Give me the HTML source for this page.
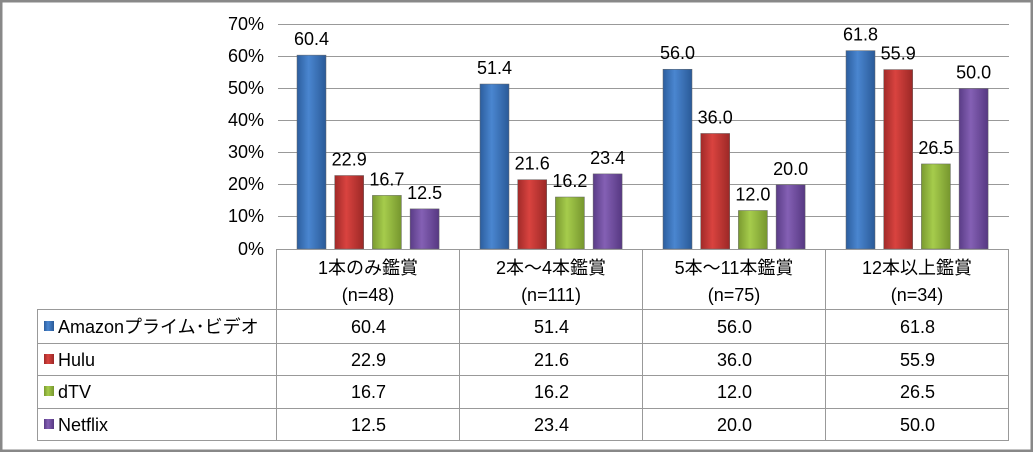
<!DOCTYPE html>
<html><head><meta charset="utf-8"><style>
body{margin:0;background:#fff}
svg{display:block;font-family:"Liberation Sans","Noto Sans CJK JP",sans-serif}
</style></head><body>
<svg width="1033" height="452" viewBox="0 0 1033 452" xmlns="http://www.w3.org/2000/svg">
<defs>
<linearGradient id="gb" x1="0" x2="1"><stop offset="0" stop-color="#2c5e9e"/><stop offset=".4" stop-color="#4a86d0"/><stop offset="1" stop-color="#2a5a98"/></linearGradient>
<linearGradient id="gr" x1="0" x2="1"><stop offset="0" stop-color="#a02a28"/><stop offset=".4" stop-color="#d9433f"/><stop offset="1" stop-color="#9c2826"/></linearGradient>
<linearGradient id="gg" x1="0" x2="1"><stop offset="0" stop-color="#7a9a30"/><stop offset=".4" stop-color="#a6cc4c"/><stop offset="1" stop-color="#76962e"/></linearGradient>
<linearGradient id="gp" x1="0" x2="1"><stop offset="0" stop-color="#5a3c86"/><stop offset=".4" stop-color="#8460b4"/><stop offset="1" stop-color="#563882"/></linearGradient>
</defs>
<rect x="1" y="1" width="1031" height="450" fill="#fff" stroke="#888" stroke-width="3"/>
<g stroke="#999" stroke-width="1">
<line x1="278" x2="1009" y1="24.5" y2="24.5"/><line x1="278" x2="1009" y1="56.5" y2="56.5"/>
<line x1="278" x2="1009" y1="88.5" y2="88.5"/><line x1="278" x2="1009" y1="120.5" y2="120.5"/>
<line x1="278" x2="1009" y1="152.5" y2="152.5"/><line x1="278" x2="1009" y1="184.5" y2="184.5"/>
<line x1="278" x2="1009" y1="216.5" y2="216.5"/>
</g>
<g font-size="18" fill="#000" text-anchor="end">
<text x="264" y="30">70%</text><text x="264" y="62">60%</text><text x="264" y="94">50%</text>
<text x="264" y="126">40%</text><text x="264" y="158">30%</text><text x="264" y="190">20%</text>
<text x="264" y="222">10%</text><text x="264" y="255">0%</text>
</g>
<g id="bars"></g>
<g stroke="#999" stroke-width="1" fill="none">
<line x1="276" x2="1009" y1="249.5" y2="249.5"/>
<line x1="37" x2="1009" y1="309.5" y2="309.5"/>
<line x1="37" x2="1009" y1="343.5" y2="343.5"/>
<line x1="37" x2="1009" y1="375.5" y2="375.5"/>
<line x1="37" x2="1009" y1="408.5" y2="408.5"/>
<line x1="37" x2="1009" y1="440.5" y2="440.5"/>
<line x1="37.5" x2="37.5" y1="309" y2="441"/>
<line x1="276.5" x2="276.5" y1="249" y2="441"/>
<line x1="459.5" x2="459.5" y1="249" y2="441"/>
<line x1="642.5" x2="642.5" y1="249" y2="441"/>
<line x1="825.5" x2="825.5" y1="249" y2="441"/>
<line x1="1008.5" x2="1008.5" y1="249" y2="441"/>
</g>
<g font-size="18" text-anchor="middle">
<text x="368" y="274">1本のみ鑑賞</text><text x="368" y="301">(n=48)</text>
<text x="551" y="274">2本～4本鑑賞</text><text x="551" y="301">(n=111)</text>
<text x="734" y="274">5本～11本鑑賞</text><text x="734" y="301">(n=75)</text>
<text x="917" y="274">12本以上鑑賞</text><text x="917" y="301">(n=34)</text>
</g>
<g font-size="18">
<rect x="44" y="321" width="10" height="10" fill="url(#gb)"/><text x="58" y="333">Amazonプライム･ビデオ</text>
<rect x="44" y="354" width="10" height="10" fill="url(#gr)"/><text x="58" y="366">Hulu</text>
<rect x="44" y="386" width="10" height="10" fill="url(#gg)"/><text x="58" y="398">dTV</text>
<rect x="44" y="419" width="10" height="10" fill="url(#gp)"/><text x="58" y="431">Netflix</text>
</g>
<g font-size="18" text-anchor="middle" id="tbl"></g>
<script>
var d=[[60.4,22.9,16.7,12.5],[51.4,21.6,16.2,23.4],[56.0,36.0,12.0,20.0],[61.8,55.9,26.5,50.0]];
var g=['gb','gr','gg','gp'],ns='http://www.w3.org/2000/svg';
var B=document.getElementById('bars'),T=document.getElementById('tbl');
var rows=[333,366,398,431];
function el(p,t,a,txt){var e=document.createElementNS(ns,t);for(var k in a)e.setAttribute(k,a[k]);if(txt!=null)e.textContent=txt;p.appendChild(e);}
for(var c=0;c<4;c++){var x0=277+c*183;
for(var s=0;s<4;s++){var v=d[c][s],h=v*3.21,x=x0+20+s*37.7,y=249-h;
el(B,'rect',{x:x,y:y,width:29,height:h,fill:'url(#'+g[s]+')',stroke:'#666','stroke-width':.5});
el(B,'text',{x:x+14.5,y:y-10,'font-size':18,'text-anchor':'middle'},v.toFixed(1));
el(T,'text',{x:x0+91.5,y:rows[s]},v.toFixed(1));}}
</script>
</svg>
</body></html>
